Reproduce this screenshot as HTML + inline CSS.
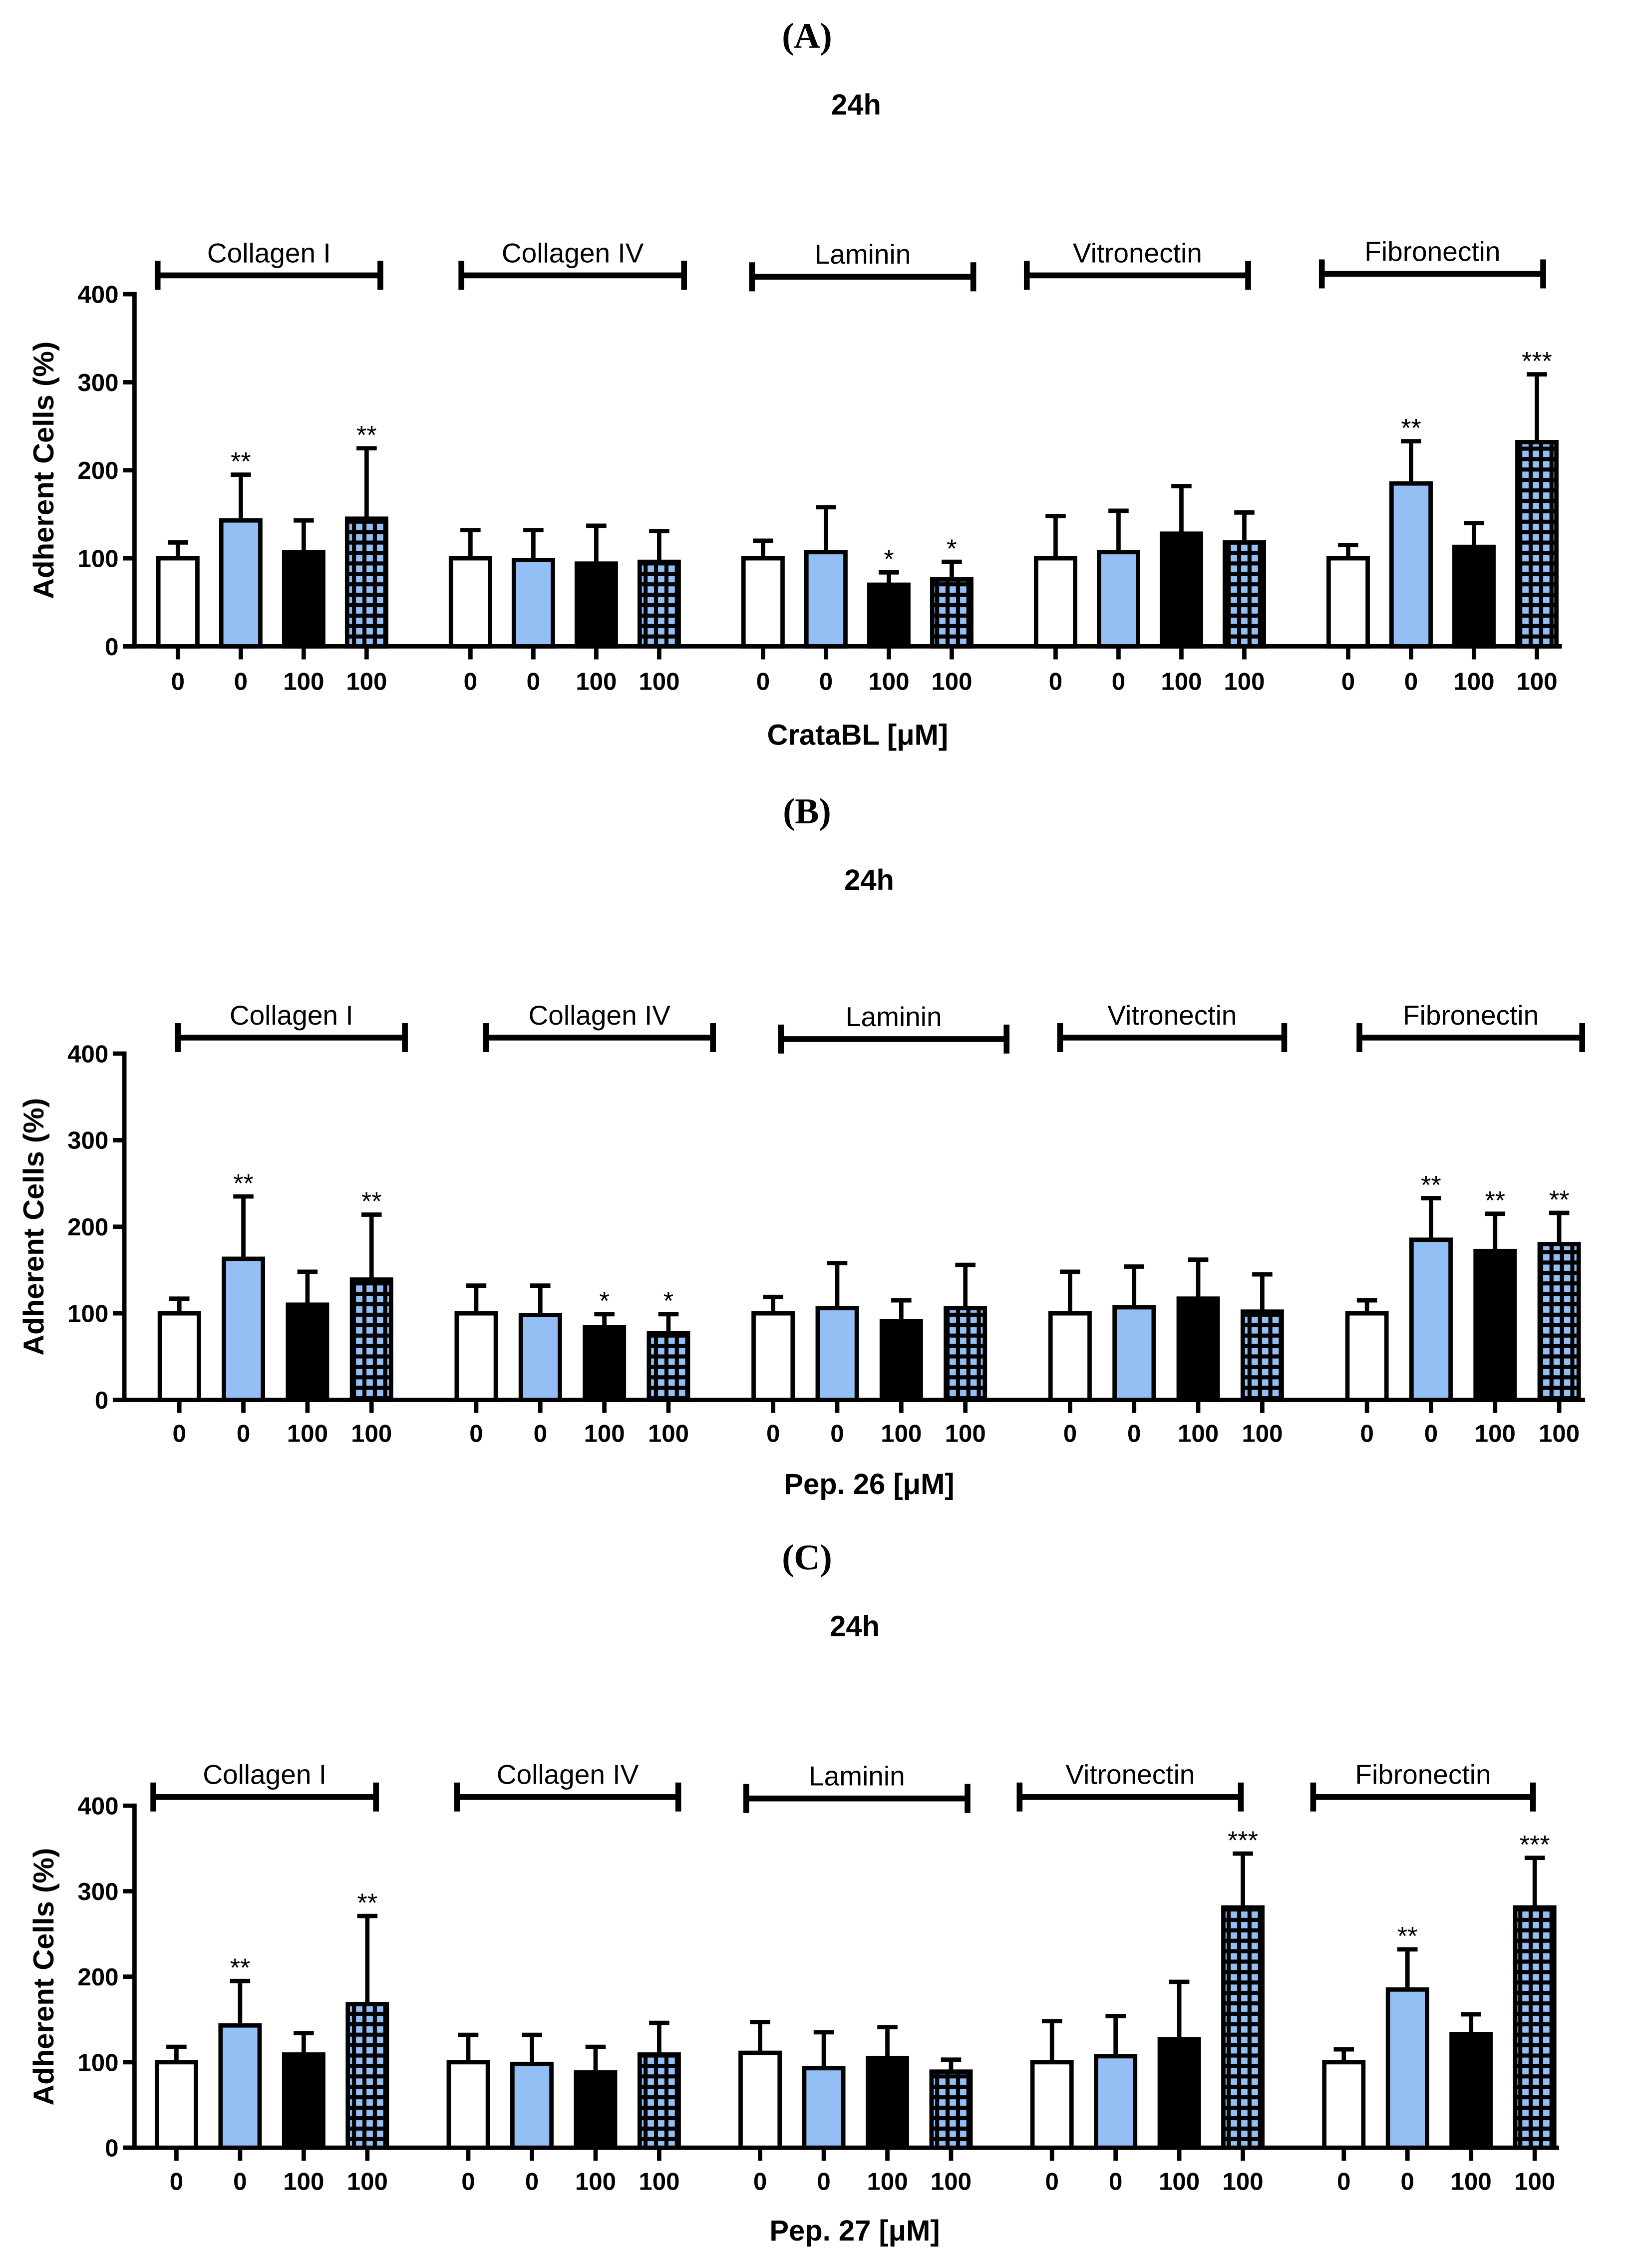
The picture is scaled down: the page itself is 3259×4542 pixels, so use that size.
<!DOCTYPE html>
<html><head><meta charset="utf-8"><style>
html,body{margin:0;padding:0;background:#fff;}
svg{display:block;}
.tk{font-family:"Liberation Sans",sans-serif;font-weight:bold;font-size:17px;}
.gl{font-family:"Liberation Sans",sans-serif;font-size:19px;}
.ttl{font-family:"Liberation Sans",sans-serif;font-weight:bold;font-size:20px;}
.pl{font-family:"Liberation Serif",serif;font-weight:bold;font-size:25px;}
.st{font-family:"Liberation Sans",sans-serif;font-size:18px;}
</style></head><body>
<svg id="fig" width="3259" height="4542" viewBox="0 0 1125 1565" preserveAspectRatio="none" xmlns="http://www.w3.org/2000/svg">
<defs>
<pattern id="hatch" patternUnits="userSpaceOnUse" width="7.2" height="7.2">
<rect width="7.2" height="7.2" fill="#000"/>
<rect x="1.4" y="1.4" width="4.4" height="4.4" fill="#93bff5"/>
</pattern>
</defs>
</svg>
<script>
const groups = ["Collagen I","Collagen IV","Laminin","Vitronectin","Fibronectin"];
const tickLabelsX = ["0","0","100","100"];
const tickLabelsY = [0,100,200,300,400];
// Panel A (CrataBL)
const meansA = [[100,143,107,145],[100,98,94,96],[100,107,70,76],[100,107,128,118],[100,185,113,232]];
const errA = [[18,52,36,80],[32,34,43,35],[20,51,14,20],[48,47,54,34],[15,48,27,77]];
const sigA = [["","**","","**"],["","","",""],["","","*","*"],["","","",""],["","**","","***"]];
// Panel B (Pep. 26)
const meansB = [[100,163,110,139],[100,98,84,77],[100,106,91,106],[100,107,117,102],[100,185,172,180]];
const errB = [[17,72,38,75],[32,34,15,22],[19,52,24,50],[48,47,45,43],[15,48,43,36]];
const sigB = [["","**","","**"],["","","*","*"],["","","",""],["","","",""],["","**","**","**"]];
// Panel C (Pep. 27)
const meansC = [[100,143,109,168],[100,98,88,109],[111,93,105,89],[100,107,127,281],[100,185,133,281]];
const errC = [[18,52,25,103],[32,34,30,37],[36,42,36,14],[48,47,67,63],[15,47,23,58]];
const sigC = [["","**","","**"],["","","",""],["","","",""],["","","","***"],["","**","","***"]];

const NS="http://www.w3.org/2000/svg";
const svg=document.getElementById('fig');
function mk(tag,attrs,parent){const e=document.createElementNS(NS,tag);for(const k in attrs)e.setAttribute(k,attrs[k]);(parent||svg).appendChild(e);return e;}

const panels=[
 {letter:"(A)",ly:25,hy:72,lx:558,hx:592,axX:93,y0:446,y400:203,xEnd:1080,first:123,gstep:202.3,bstep:43.5,
  br:[[109,263,190],[319,473,190],[520,673,191],[710,863,190],[914,1067,189]],
  xt:"CrataBL [μM]",xtx:593,xty:507,tly:470,m:meansA,e:errA,s:sigA,key:"a"},
 {letter:"(B)",ly:560,hy:607,lx:558,hx:601,axX:86,y0:966,y400:727,xEnd:1096,first:124,gstep:205.3,bstep:44.3,
  br:[[123,280,716],[336,493,716],[540,696,717],[733,888,716],[940,1094,716]],
  xt:"Pep. 26 [μM]",xtx:601,xty:1024,tly:989,m:meansB,e:errB,s:sigB,key:"b"},
 {letter:"(C)",ly:1075,hy:1122,lx:558,hx:591,axX:93,y0:1482,y400:1246,xEnd:1078,first:122,gstep:201.8,bstep:44,
  br:[[106,260,1240],[316,469,1240],[516,669,1241],[705,858,1240],[908,1060,1240]],
  xt:"Pep. 27 [μM]",xtx:591,xty:1539,tly:1505,m:meansC,e:errC,s:sigC,key:"c"}
];
const fills=["#ffffff","#93bff5","#000000","url(#hatch)"];
const kinds=["control","ecm-only","treated","ecm-treated"];

panels.forEach(p=>{
  const g=mk('g',{});
  
  
  const yS=v=>p.y0-(v/400)*(p.y0-p.y400);
  const xS=(gi,bi)=>p.first+gi*p.gstep+bi*p.bstep;
  let t=mk('text',{x:p.lx,y:p.ly+8,'text-anchor':'middle',class:'pl'},g);t.textContent=p.letter;
  
  t=mk('text',{x:p.hx,y:p.hy+7,'text-anchor':'middle',class:'ttl'},g);t.textContent="24h";
  
  let l=mk('line',{x1:p.axX,y1:p.y400-1.5,x2:p.axX,y2:p.y0+1.5,stroke:'#000','stroke-width':3},g);
  
  tickLabelsY.forEach(v=>{
    mk('line',{x1:p.axX-8,y1:yS(v),x2:p.axX,y2:yS(v),stroke:'#000','stroke-width':3},g);
    const tt=mk('text',{x:p.axX-11,y:yS(v)+6,'text-anchor':'end',class:'tk'},g);tt.textContent=v;
    
  });
  const yt=mk('text',{x:0,y:0,'text-anchor':'middle',class:'ttl',transform:`translate(${p.axX-56},${(p.y0+p.y400)/2}) rotate(-90)`},g);
  yt.textContent="Adherent Cells (%)";
  
  l=mk('line',{x1:p.axX-8,y1:p.y0,x2:p.xEnd,y2:p.y0,stroke:'#000','stroke-width':3},g);
  
  const bw=27;
  groups.forEach((gn,gi)=>{
    const b=p.br[gi];
    const bg=mk('g',{},g);
    
    mk('line',{x1:b[0],y1:b[2],x2:b[1],y2:b[2],stroke:'#000','stroke-width':4},bg);
    mk('line',{x1:b[0],y1:b[2]-10,x2:b[0],y2:b[2]+10,stroke:'#000','stroke-width':4},bg);
    mk('line',{x1:b[1],y1:b[2]-10,x2:b[1],y2:b[2]+10,stroke:'#000','stroke-width':4},bg);
    const gt=mk('text',{x:(b[0]+b[1])/2,y:b[2]-9,'text-anchor':'middle',class:'gl'},g);gt.textContent=gn;
    
    for(let bi=0;bi<4;bi++){
      const cx=xS(gi,bi),v=p.m[gi][bi],er=p.e[gi][bi];
      const eb=mk('g',{},g);
      
      mk('line',{x1:cx,y1:yS(v),x2:cx,y2:yS(v+er),stroke:'#000','stroke-width':3},eb);
      mk('line',{x1:cx-7,y1:yS(v+er),x2:cx+7,y2:yS(v+er),stroke:'#000','stroke-width':3},eb);
      const r=mk('rect',{x:cx-bw/2,y:yS(v),width:bw,height:p.y0-yS(v),fill:fills[bi],stroke:'#000','stroke-width':3},g);
      
      if(p.s[gi][bi]){
        const st=mk('text',{x:cx,y:yS(v+er)-3,'text-anchor':'middle',class:'st'},g);st.textContent=p.s[gi][bi];
        
      }
      mk('line',{x1:cx,y1:p.y0,x2:cx,y2:p.y0+9,stroke:'#000','stroke-width':3},g);
      const xl=mk('text',{x:cx,y:p.tly+6,'text-anchor':'middle',class:'tk'},g);xl.textContent=tickLabelsX[bi];
      
    }
  });
  const xt=mk('text',{x:p.xtx,y:p.xty+7,'text-anchor':'middle',class:'ttl'},g);xt.textContent=p.xt;
  
});
</script>
</body></html>
